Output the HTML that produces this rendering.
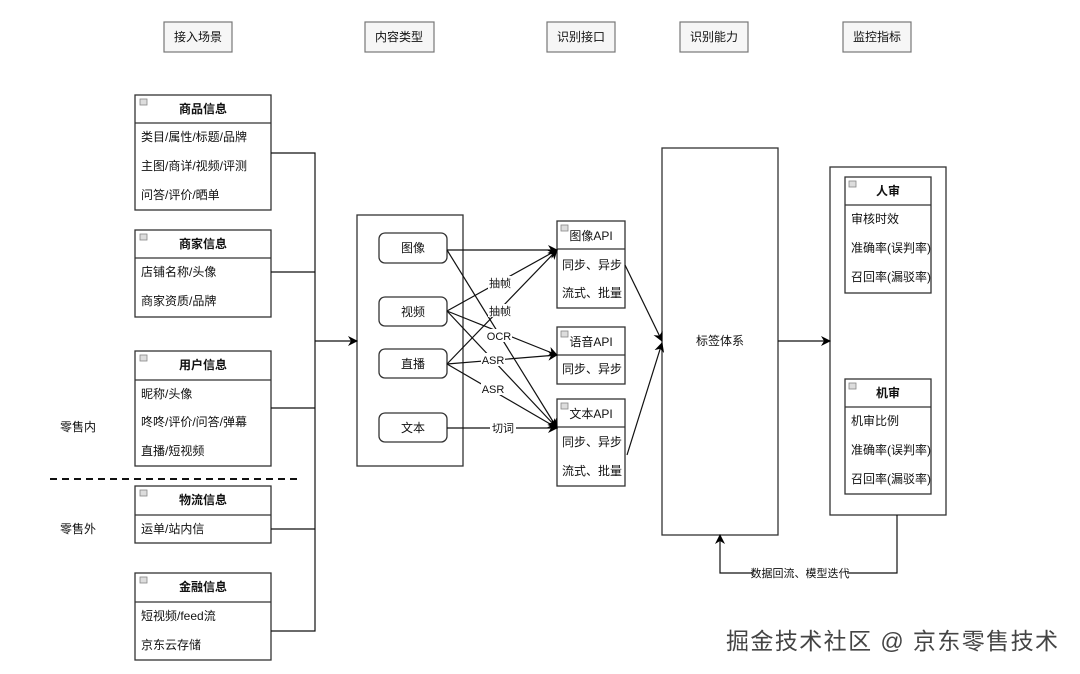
<!DOCTYPE html>
<html><head><meta charset="utf-8"><style>
html,body{margin:0;padding:0;background:#fff}
svg{display:block}
text{font-family:"Liberation Sans","Noto Sans CJK SC",sans-serif;fill:#111}
</style></head><body>
<svg width="1080" height="674" viewBox="0 0 1080 674" xmlns="http://www.w3.org/2000/svg">
<defs>
<marker id="a" markerWidth="10" markerHeight="10" refX="9" refY="5" orient="auto" markerUnits="userSpaceOnUse">
<path d="M0,0 L10,5 L0,10 L3,5 Z" fill="#000"/></marker>
</defs>
<g stroke="#777" fill="#f6f6f6" stroke-width="1.2">
<rect x="164" y="22" width="68" height="30"/><rect x="365" y="22" width="69" height="30"/>
<rect x="547" y="22" width="68" height="30"/><rect x="680" y="22" width="68" height="30"/>
<rect x="843" y="22" width="68" height="30"/>
</g>
<g font-size="12" text-anchor="middle">
<text x="198" y="41">接入场景</text><text x="399" y="41">内容类型</text>
<text x="581" y="41">识别接口</text><text x="714" y="41">识别能力</text><text x="877" y="41">监控指标</text>
</g>
<g stroke="#333" stroke-width="1.3" fill="#fff">
<rect x="135" y="95" width="136" height="115"/><line x1="135" y1="123" x2="271" y2="123"/>
<rect x="135" y="230" width="136" height="87"/><line x1="135" y1="258" x2="271" y2="258"/>
<rect x="135" y="351" width="136" height="115"/><line x1="135" y1="380" x2="271" y2="380"/>
<rect x="135" y="486" width="136" height="57"/><line x1="135" y1="515" x2="271" y2="515"/>
<rect x="135" y="573" width="136" height="87"/><line x1="135" y1="602" x2="271" y2="602"/>
<rect x="357" y="215" width="106" height="251"/>
<rect x="379" y="233" width="68" height="30" rx="6"/><rect x="379" y="297" width="68" height="29" rx="6"/>
<rect x="379" y="349" width="68" height="29" rx="6"/><rect x="379" y="413" width="68" height="29" rx="6"/>
<rect x="557" y="221" width="68" height="87"/><line x1="557" y1="249" x2="625" y2="249"/>
<rect x="557" y="327" width="68" height="57"/><line x1="557" y1="355" x2="625" y2="355"/>
<rect x="557" y="399" width="68" height="87"/><line x1="557" y1="427" x2="625" y2="427"/>
<rect x="662" y="148" width="116" height="387"/>
<rect x="830" y="167" width="116" height="348"/>
<rect x="845" y="177" width="86" height="116"/><line x1="845" y1="205" x2="931" y2="205"/>
<rect x="845" y="379" width="86" height="115"/><line x1="845" y1="407" x2="931" y2="407"/>
</g>
<g fill="#ddd" stroke="#888" stroke-width="0.8">
<rect x="140" y="99" width="7" height="6"/><rect x="140" y="234" width="7" height="6"/>
<rect x="140" y="355" width="7" height="6"/><rect x="140" y="490" width="7" height="6"/>
<rect x="140" y="577" width="7" height="6"/><rect x="561" y="225" width="7" height="6"/>
<rect x="561" y="331" width="7" height="6"/><rect x="561" y="403" width="7" height="6"/>
<rect x="849" y="181" width="7" height="6"/><rect x="849" y="383" width="7" height="6"/>
</g>
<g font-size="12">
<text x="203" y="113" text-anchor="middle" font-weight="bold">商品信息</text>
<text x="141" y="141">类目/属性/标题/品牌</text><text x="141" y="170">主图/商详/视频/评测</text><text x="141" y="199">问答/评价/晒单</text>
<text x="203" y="248" text-anchor="middle" font-weight="bold">商家信息</text>
<text x="141" y="276">店铺名称/头像</text><text x="141" y="305">商家资质/品牌</text>
<text x="203" y="369" text-anchor="middle" font-weight="bold">用户信息</text>
<text x="141" y="398">昵称/头像</text><text x="141" y="426">咚咚/评价/问答/弹幕</text><text x="141" y="455">直播/短视频</text>
<text x="203" y="504" text-anchor="middle" font-weight="bold">物流信息</text>
<text x="141" y="533">运单/站内信</text>
<text x="203" y="591" text-anchor="middle" font-weight="bold">金融信息</text>
<text x="141" y="620">短视频/feed流</text><text x="141" y="649">京东云存储</text>
<text x="60" y="431">零售内</text><text x="60" y="533">零售外</text>
<text x="413" y="252" text-anchor="middle">图像</text><text x="413" y="316" text-anchor="middle">视频</text>
<text x="413" y="368" text-anchor="middle">直播</text><text x="413" y="432" text-anchor="middle">文本</text>
<text x="591" y="240" text-anchor="middle">图像API</text><text x="562" y="269">同步、异步</text><text x="562" y="297">流式、批量</text>
<text x="591" y="346" text-anchor="middle">语音API</text><text x="562" y="373">同步、异步</text>
<text x="591" y="418" text-anchor="middle">文本API</text><text x="562" y="446">同步、异步</text><text x="562" y="475">流式、批量</text>
<text x="720" y="345" text-anchor="middle">标签体系</text>
<text x="888" y="195" text-anchor="middle" font-weight="bold">人审</text>
<text x="851" y="223">审核时效</text><text x="851" y="252">准确率(误判率)</text><text x="851" y="281">召回率(漏驳率)</text>
<text x="888" y="397" text-anchor="middle" font-weight="bold">机审</text>
<text x="851" y="425">机审比例</text><text x="851" y="454">准确率(误判率)</text><text x="851" y="483">召回率(漏驳率)</text>
</g>
<line x1="50" y1="479" x2="300" y2="479" stroke="#111" stroke-width="2" stroke-dasharray="7,5"/>
<g stroke="#111" stroke-width="1.2" fill="none">
<polyline points="271,153 315,153 315,631 271,631"/>
<line x1="271" y1="272" x2="315" y2="272"/><line x1="271" y1="408" x2="315" y2="408"/><line x1="271" y1="529" x2="315" y2="529"/>
<line x1="315" y1="341" x2="357" y2="341" marker-end="url(#a)"/>
<line x1="447" y1="250" x2="557" y2="250" marker-end="url(#a)"/>
<line x1="447" y1="250" x2="557" y2="428" marker-end="url(#a)"/>
<line x1="447" y1="311" x2="557" y2="250" marker-end="url(#a)"/>
<line x1="447" y1="311" x2="557" y2="355" marker-end="url(#a)"/>
<line x1="447" y1="311" x2="557" y2="428" marker-end="url(#a)"/>
<line x1="447" y1="364" x2="557" y2="250" marker-end="url(#a)"/>
<line x1="447" y1="364" x2="557" y2="355" marker-end="url(#a)"/>
<line x1="447" y1="364" x2="557" y2="428" marker-end="url(#a)"/>
<line x1="447" y1="428" x2="557" y2="428" marker-end="url(#a)"/>
<line x1="625" y1="265" x2="662" y2="341" marker-end="url(#a)"/>
<line x1="627" y1="455" x2="662" y2="343" marker-end="url(#a)"/>
<line x1="778" y1="341" x2="830" y2="341" marker-end="url(#a)"/>
<polyline points="897,515 897,573 720,573 720,535" marker-end="url(#a)"/>
</g>
<g font-size="11" text-anchor="middle">
<rect x="488" y="276" width="24" height="13" fill="#fff"/><text x="500" y="287">抽帧</text>
<rect x="488" y="304" width="24" height="13" fill="#fff"/><text x="500" y="315">抽帧</text>
<rect x="486" y="329" width="26" height="13" fill="#fff"/><text x="499" y="340">OCR</text>
<rect x="481" y="353" width="24" height="13" fill="#fff"/><text x="493" y="364">ASR</text>
<rect x="481" y="382" width="24" height="13" fill="#fff"/><text x="493" y="393">ASR</text>
<rect x="490" y="421" width="26" height="13" fill="#fff"/><text x="503" y="432">切词</text>
<rect x="753" y="566" width="94" height="14" fill="#fff"/><text x="800" y="577">数据回流、模型迭代</text>
</g>
<text x="726" y="649" font-size="23" textLength="332" lengthAdjust="spacing" style="fill:#444">掘金技术社区 @ 京东零售技术</text>
</svg>
</body></html>
